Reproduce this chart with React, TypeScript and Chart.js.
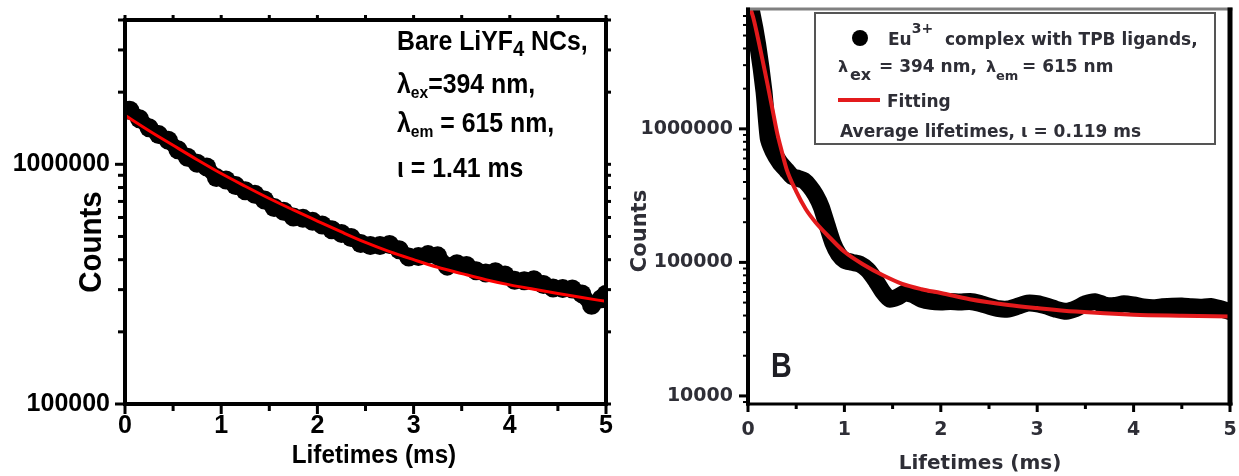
import React, { useEffect, useRef } from "react";
import { Chart, registerables } from "chart.js";

Chart.register(...registerables);

// ---------------- Panel A : bare LiYF4 NCs ----------------
const leftTimes = [
  0.05, 0.15, 0.25, 0.35, 0.45, 0.55, 0.65, 0.75, 0.85, 0.95,
  1.05, 1.15, 1.25, 1.35, 1.45, 1.55, 1.65, 1.75, 1.85, 1.95,
  2.05, 2.15, 2.25, 2.35, 2.45, 2.55, 2.65, 2.75, 2.85, 2.95,
  3.05, 3.15, 3.25, 3.35, 3.45, 3.55, 3.65, 3.75, 3.85, 3.95,
  4.05, 4.15, 4.25, 4.35, 4.45, 4.55, 4.65, 4.75, 4.85, 4.95, 5.0,
];
const leftCounts = [
  1680000, 1550000, 1420000, 1330000, 1260000, 1150000, 1070000, 1010000, 975000, 880000,
  860000, 815000, 775000, 750000, 710000, 660000, 637000, 603000, 595000, 578000,
  558000, 533000, 515000, 495000, 467000, 458000, 458000, 463000, 440000, 410000,
  412000, 420000, 415000, 376000, 385000, 378000, 360000, 352000, 356000, 345000,
  328000, 327000, 330000, 315000, 305000, 303000, 302000, 288000, 258000, 275000, 287000,
];
const leftFitTimes = [
  0, 0.25, 0.5, 0.75, 1, 1.25, 1.5, 1.75, 2, 2.25, 2.5,
  2.75, 3, 3.25, 3.5, 3.75, 4, 4.25, 4.5, 4.75, 5,
];
const leftFitCounts = [
  1600000, 1380000, 1200000, 1045000, 915000, 810000, 720000, 645000, 580000, 522000, 472000,
  432000, 400000, 372000, 350000, 330000, 314000, 301000, 289000, 278000, 268000,
];
const leftYLabels = [100000, 1000000];

// ---------------- Panel B : Eu3+ complex with TPB ligands ----------------
const rightTimes = [
  0, 0.04, 0.1, 0.166, 0.21, 0.26, 0.33, 0.4, 0.46, 0.52,
  0.58, 0.64, 0.7, 0.76, 0.82, 0.88, 0.94, 1.0, 1.08, 1.16,
  1.24, 1.32, 1.4, 1.47, 1.55, 1.63, 1.72, 1.8, 1.9, 2.0,
  2.1, 2.2, 2.3, 2.4, 2.5, 2.6, 2.7, 2.8, 2.9, 3.0,
  3.1, 3.2, 3.3, 3.4, 3.5, 3.6, 3.7, 3.8, 3.9, 4.0,
  4.1, 4.2, 4.3, 4.4, 4.5, 4.6, 4.7, 4.8, 4.9, 5.0,
];
const rightCounts = [
  9500000, 7400000, 4300000, 1900000, 850000, 680000, 560000, 490000, 440000, 425000,
  410000, 370000, 320000, 260000, 190000, 140000, 115000, 104000, 100000, 97000,
  88000, 74000, 60000, 53000, 55000, 59000, 57000, 53000, 51000, 50600,
  51000, 50500, 51000, 49500, 47000, 45000, 44800, 47000, 49500, 49000,
  47000, 44500, 43000, 45000, 49000, 50800, 48000, 47500, 49000, 48000,
  46500, 45800, 46500, 47000, 47200, 46500, 46200, 46800, 45000, 42800,
];
const rightFitTimes = [
  0, 0.05, 0.1, 0.15, 0.2, 0.25, 0.3, 0.35, 0.4, 0.5, 0.6, 0.7, 0.85,
  1.0, 1.2, 1.4, 1.6, 1.8, 2.0, 2.3, 2.7, 3.0, 3.4, 4.0, 4.5, 5.0,
];
const rightFitCounts = [
  8800000, 7000000, 4900000, 3300000, 2200000, 1450000, 950000, 680000, 500000, 340000, 250000, 200000, 153000,
  120000, 96000, 80000, 69000, 63000, 59000, 53000, 48000, 45500, 42800, 40500, 39800, 39300,
];
const rightYLabels = [10000, 100000, 1000000];

// shared x axis
const xLabels = [0, 1, 2, 3, 4, 5];
const xTickMarks = [0, 0.5, 1, 1.5, 2, 2.5, 3, 3.5, 4, 4.5, 5];

const LIB = '"Liberation Sans", Arial, sans-serif';
const DJV = '"DejaVu Sans", sans-serif';

type Seg = { t: string; font: string; dy?: number; x?: number; sx?: number; color?: string };
type TextItem = { x: number; y: number; segs: Seg[]; align?: "left" | "center"; rot?: number; color?: string };
type Side = { w: number; c: string };
type DecorCfg = {
  offX: number;
  frame: { left: Side; bottom: Side; top: Side; right: Side };
  xt: { major: number; minor: number; w: number; c: string; mirror: number };
  yt: { major: number; minor: number; w: number; minorW: number; c: string; mirror: number };
  boxes: { x: number; y: number; w: number; h: number; lw: number; c: string }[];
  circles: { x: number; y: number; r: number; c: string }[];
  lines: { x1: number; y1: number; x2: number; y2: number; w: number; c: string }[];
  texts: TextItem[];
};

function drawText(ctx: CanvasRenderingContext2D, item: TextItem, offX: number) {
  ctx.save();
  ctx.translate(item.x - offX, item.y);
  if (item.rot) ctx.rotate(item.rot);
  ctx.textBaseline = "alphabetic";
  ctx.textAlign = "left";
  let total = 0;
  for (const s of item.segs) {
    ctx.font = s.font;
    total += ctx.measureText(s.t).width * (s.sx ?? 1);
  }
  let cx = item.align === "center" ? -total / 2 : 0;
  for (const s of item.segs) {
    ctx.font = s.font;
    const w = ctx.measureText(s.t).width * (s.sx ?? 1);
    if (s.x !== undefined) cx = s.x - item.x;
    ctx.fillStyle = s.color ?? item.color ?? "#000";
    ctx.save();
    ctx.translate(cx, s.dy ?? 0);
    ctx.scale(s.sx ?? 1, 1);
    ctx.fillText(s.t, 0, 0);
    ctx.restore();
    cx += w;
  }
  ctx.restore();
}

function makeDecor(d: DecorCfg) {
  return {
    id: "decor",
    afterDraw(chart: any) {
      const ctx: CanvasRenderingContext2D = chart.ctx;
      const a = chart.chartArea;
      const xs = chart.scales.x;
      const ys = chart.scales.y;
      ctx.save();
      const f = d.frame;
      ctx.fillStyle = f.top.c;
      ctx.fillRect(a.left - f.left.w / 2, a.top - f.top.w / 2, a.right - a.left + f.left.w / 2 + f.right.w / 2, f.top.w);
      ctx.fillStyle = f.left.c;
      ctx.fillRect(a.left - f.left.w / 2, a.top - f.top.w / 2, f.left.w, a.bottom - a.top + f.top.w / 2 + f.bottom.w / 2);
      ctx.fillStyle = f.right.c;
      ctx.fillRect(a.right - f.right.w / 2, a.top - f.top.w / 2, f.right.w, a.bottom - a.top + f.top.w / 2 + f.bottom.w / 2);
      ctx.fillStyle = f.bottom.c;
      ctx.fillRect(a.left - f.left.w / 2, a.bottom - f.bottom.w / 2, a.right - a.left + f.left.w / 2 + f.right.w / 2, f.bottom.w);
      ctx.fillStyle = d.xt.c;
      for (const v of xTickMarks) {
        const px = xs.getPixelForValue(v);
        const major = Math.abs(v - Math.round(v)) < 1e-9;
        const len = major ? d.xt.major : d.xt.minor;
        ctx.fillRect(px - d.xt.w / 2, a.bottom, d.xt.w, len);
        if (d.xt.mirror > 0) ctx.fillRect(px - d.xt.w / 2, a.top - d.xt.mirror, d.xt.w, d.xt.mirror);
      }
      ctx.fillStyle = d.yt.c;
      for (const t of ys.ticks) {
        const v = t.value;
        const e = Math.floor(Math.log10(v) + 1e-9);
        const m = v / Math.pow(10, e);
        if (Math.abs(m - Math.round(m)) > 1e-6) continue;
        const py = ys.getPixelForValue(v);
        if (py < a.top - 0.5 || py > a.bottom + 0.5) continue;
        const major = Math.round(m) === 1;
        const len = major ? d.yt.major : d.yt.minor;
        const w = major ? d.yt.w : d.yt.minorW;
        ctx.fillRect(a.left - len, py - w / 2, len, w);
        if (d.yt.mirror > 0) ctx.fillRect(a.right, py - w / 2, d.yt.mirror, w);
      }
      for (const b of d.boxes) {
        ctx.fillStyle = "#fff";
        ctx.fillRect(b.x - d.offX, b.y, b.w, b.h);
        ctx.strokeStyle = b.c;
        ctx.lineWidth = b.lw;
        ctx.strokeRect(b.x - d.offX, b.y, b.w, b.h);
      }
      for (const c of d.circles) {
        ctx.fillStyle = c.c;
        ctx.beginPath();
        ctx.arc(c.x - d.offX, c.y, c.r, 0, Math.PI * 2);
        ctx.fill();
      }
      for (const l of d.lines) {
        ctx.strokeStyle = l.c;
        ctx.lineWidth = l.w;
        ctx.beginPath();
        ctx.moveTo(l.x1 - d.offX, l.y1);
        ctx.lineTo(l.x2 - d.offX, l.y2);
        ctx.stroke();
      }
      for (const t of d.texts) drawText(ctx, t, d.offX);
      ctx.restore();
    },
  };
}

const near = (list: number[], v: number) => list.some((l) => Math.abs(l - v) / l < 1e-6);

function pts(ts: number[], vs: number[]) {
  return ts.map((t, i) => ({ x: t, y: vs[i] }));
}

function leftConfig(): any {
  const fA = (s: number) => `bold ${s}px ${LIB}`;
  const decor = makeDecor({
    offX: 0,
    frame: {
      left: { w: 4, c: "#000" },
      bottom: { w: 4, c: "#000" },
      top: { w: 4, c: "#000" },
      right: { w: 4, c: "#000" },
    },
    xt: { major: 10, minor: 7, w: 3, c: "#000", mirror: 5 },
    yt: { major: 10, minor: 7, w: 3, minorW: 3, c: "#000", mirror: 5 },
    boxes: [],
    circles: [],
    lines: [],
    texts: [
      { x: 101, y: 242, rot: -Math.PI / 2, align: "center", segs: [{ t: "Counts", font: fA(32), sx: 0.92 }] },
      { x: 374, y: 463, align: "center", segs: [{ t: "Lifetimes (ms)", font: fA(25), sx: 0.97 }] },
      {
        x: 397, y: 50,
        segs: [
          { t: "Bare LiYF", font: fA(27), sx: 0.92 },
          { t: "4", font: fA(22), sx: 0.92, dy: 6 },
          { t: " NCs,", font: fA(27), sx: 0.92 },
        ],
      },
      {
        x: 397, y: 93,
        segs: [
          { t: "λ", font: fA(27), sx: 0.92 },
          { t: "ex", font: fA(17), sx: 0.92, dy: 5 },
          { t: "=394 nm,", font: fA(27), sx: 0.92 },
        ],
      },
      {
        x: 397, y: 132,
        segs: [
          { t: "λ", font: fA(27), sx: 0.92 },
          { t: "em", font: fA(17), sx: 0.92, dy: 5 },
          { t: " = 615 nm,", font: fA(27), sx: 0.92 },
        ],
      },
      { x: 397, y: 177, segs: [{ t: "ι = 1.41 ms", font: fA(27), sx: 0.92 }] },
    ],
  });
  return {
    type: "line",
    data: {
      datasets: [
        {
          label: "Fitting",
          data: pts(leftFitTimes, leftFitCounts),
          borderColor: "#ff0000",
          borderWidth: 3,
          pointRadius: 0,
          cubicInterpolationMode: "monotone",
        },
        {
          label: "Bare LiYF4 NCs",
          data: pts(leftTimes, leftCounts),
          borderColor: "#000",
          backgroundColor: "#000",
          borderWidth: 15,
          borderJoinStyle: "round",
          borderCapStyle: "round",
          pointRadius: 9.5,
          pointBorderWidth: 0,
          pointBackgroundColor: "#000",
        },
      ],
    },
    options: {
      animation: false,
      responsive: false,
      devicePixelRatio: 1,
      events: [],
      layout: { padding: { left: 0, right: 14, top: 20, bottom: 0 } },
      plugins: { legend: { display: false }, tooltip: { enabled: false } },
      scales: {
        x: {
          type: "linear",
          min: 0,
          max: 5,
          grid: { display: false, drawTicks: false },
          border: { display: false },
          afterFit: (s: any) => {
            s.height = 72;
            s.paddingLeft = 0;
            s.paddingRight = 0;
          },
          ticks: {
            stepSize: 1,
            padding: 7,
            autoSkip: false,
            maxRotation: 0,
            color: "#000",
            font: { family: LIB, size: 25, weight: "bold" },
            callback: (v: number) => (xLabels.includes(v) ? String(v) : ""),
          },
        },
        y: {
          type: "logarithmic",
          min: 100000,
          max: 4000000,
          grid: { display: false, drawTicks: false },
          border: { display: false },
          afterFit: (s: any) => {
            s.width = 125;
            s.paddingTop = 0;
            s.paddingBottom = 0;
          },
          ticks: {
            padding: 15,
            autoSkip: false,
            color: "#000",
            font: { family: LIB, size: 25, weight: "bold" },
            callback: (v: number) => (near(leftYLabels, v) ? String(Math.round(v)) : ""),
          },
        },
      },
    },
    plugins: [decor],
  };
}

function rightConfig(): any {
  const fD = (s: number) => `bold ${s}px ${DJV}`;
  const tc = "#2e2e36";
  const decor = makeDecor({
    offX: 620,
    frame: {
      left: { w: 4, c: "#000" },
      bottom: { w: 3, c: "#000" },
      top: { w: 3, c: "#808080" },
      right: { w: 5, c: "#000" },
    },
    xt: { major: 8, minor: 5, w: 3, c: "#000", mirror: 0 },
    yt: { major: 9, minor: 5, w: 3, minorW: 2, c: "#000", mirror: 0 },
    boxes: [{ x: 815, y: 13, w: 400, h: 131, lw: 2, c: "#555" }],
    circles: [{ x: 860, y: 38, r: 8, c: "#000" }],
    lines: [{ x1: 838, y1: 100, x2: 880, y2: 100, w: 4, c: "#e31a1c" }],
    texts: [
      { x: 646, y: 231, rot: -Math.PI / 2, align: "center", color: tc, segs: [{ t: "Counts", font: fD(21) }] },
      { x: 980, y: 469, align: "center", color: tc, segs: [{ t: "Lifetimes (ms)", font: fD(20) }] },
      { x: 771, y: 377, color: "#1e1e24", segs: [{ t: "B", font: `bold 35px ${LIB}`, sx: 0.82 }] },
      {
        x: 888, y: 45, color: tc,
        segs: [
          { t: "Eu", font: fD(17) },
          { t: "3+", font: fD(14), dy: -12 },
          { t: "complex with TPB ligands,", font: fD(17), x: 945 },
        ],
      },
      {
        x: 838, y: 72, color: tc,
        segs: [
          { t: "λ", font: fD(16), x: 838 },
          { t: "ex", font: fD(16), x: 850, dy: 8 },
          { t: "= 394 nm,", font: fD(17), x: 879 },
          { t: "λ", font: fD(16), x: 986 },
          { t: "em", font: fD(13), x: 996, dy: 8 },
          { t: "= 615 nm", font: fD(17), x: 1022 },
        ],
      },
      { x: 887, y: 107, color: tc, segs: [{ t: "Fitting", font: fD(17) }] },
      { x: 840, y: 137, color: tc, segs: [{ t: "Average lifetimes, ι = 0.119 ms", font: fD(17) }] },
    ],
  });
  return {
    type: "line",
    data: {
      datasets: [
        {
          label: "Fitting",
          data: pts(rightFitTimes, rightFitCounts),
          borderColor: "#e31a1c",
          borderWidth: 4,
          pointRadius: 0,
          cubicInterpolationMode: "monotone",
        },
        {
          label: "Eu3+ complex with TPB ligands",
          data: pts(rightTimes, rightCounts),
          borderColor: "#000",
          backgroundColor: "#000",
          borderWidth: 17,
          borderJoinStyle: "round",
          borderCapStyle: "round",
          pointRadius: 0,
          tension: 0.2,
        },
      ],
    },
    options: {
      animation: false,
      responsive: false,
      devicePixelRatio: 1,
      events: [],
      layout: { padding: { left: 0, right: 9, top: 9, bottom: 0 } },
      plugins: { legend: { display: false }, tooltip: { enabled: false } },
      scales: {
        x: {
          type: "linear",
          min: 0,
          max: 5,
          grid: { display: false, drawTicks: false },
          border: { display: false },
          afterFit: (s: any) => {
            s.height = 72;
            s.paddingLeft = 0;
            s.paddingRight = 0;
          },
          ticks: {
            stepSize: 1,
            padding: 15,
            autoSkip: false,
            maxRotation: 0,
            color: tc,
            font: { family: DJV, size: 19, weight: "bold" },
            callback: (v: number) => (xLabels.includes(v) ? String(v) : ""),
          },
        },
        y: {
          type: "logarithmic",
          min: 8700,
          max: 7900000,
          grid: { display: false, drawTicks: false },
          border: { display: false },
          afterFit: (s: any) => {
            s.width = 128;
            s.paddingTop = 0;
            s.paddingBottom = 0;
          },
          ticks: {
            padding: 15,
            autoSkip: false,
            color: tc,
            font: { family: DJV, size: 19, weight: "bold" },
            callback: (v: number) => (near(rightYLabels, v) ? String(Math.round(v)) : ""),
          },
        },
      },
    },
    plugins: [decor],
  };
}

function Panel({ left, width, make }: { left: number; width: number; make: () => any }) {
  const ref = useRef<HTMLCanvasElement>(null);
  useEffect(() => {
    const chart = new Chart(ref.current as HTMLCanvasElement, make());
    return () => chart.destroy();
  }, []);
  return (
    <div style={{ position: "absolute", left, top: 0, width, height: 476 }}>
      <canvas ref={ref} width={width} height={476} style={{ width, height: 476, display: "block" }} />
    </div>
  );
}

export default function App() {
  return (
    <div style={{ position: "absolute", left: 0, top: 0, width: 1239, height: 476, background: "#fff", overflow: "hidden" }}>
      <Panel left={0} width={620} make={leftConfig} />
      <Panel left={620} width={619} make={rightConfig} />
    </div>
  );
}
